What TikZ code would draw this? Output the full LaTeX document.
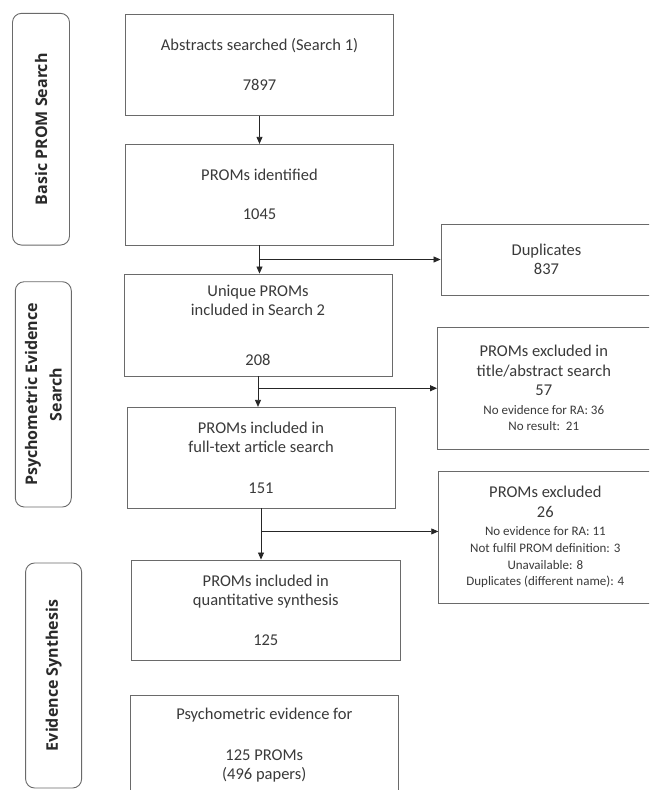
\documentclass[tikz,border=0pt]{standalone}
\usepackage{fontspec}
\setmainfont{Carlito}
\newfontfamily\sidefont{Open Sans}
\usetikzlibrary{arrows.meta}
\definecolor{boxline}{HTML}{6A6A6A}
\definecolor{txt}{HTML}{3A3A3A}
\definecolor{sidetxt}{HTML}{2A2A2A}
\newcommand{\smalltxt}{\fontsize{13}{16.7}\selectfont}
\begin{document}
\begin{tikzpicture}[x=1pt,y=-1pt,
  box/.style={draw=boxline, line width=0.9pt, align=center, text=txt, inner sep=0pt,
              font=\fontsize{16.5}{19.5}\selectfont},
  sidebox/.style={draw=boxline, line width=0.9pt, rounded corners=9pt, rotate=90,
              align=center, text=sidetxt, inner sep=0pt,
              font=\sidefont\bfseries\fontsize{16}{24.5}\selectfont},
  arr/.style={draw=black!85, line width=0.8pt, -{Triangle[length=7pt,width=6pt]}}]
\useasboundingbox (0,0) rectangle (649,790);
\fill[white] (0,0) rectangle (649,790);
\clip (0,0) rectangle (649,790);

% side labels
\node[sidebox, minimum width=231.7pt, minimum height=57pt] (s1) at (41,129.2) {Basic PROM Search};
\node[sidebox, minimum width=225.3pt, minimum height=56pt] (s2) at (43.3,394.35) {Psychometric Evidence\\Search};
\node[sidebox, minimum width=225pt, minimum height=56pt] (s3) at (53.6,675.5) {Evidence Synthesis};

% main column
\node[box, minimum width=268.2pt, minimum height=101.3pt] (A) at (259.5,64.65)
  {Abstracts searched (Search 1)\\[20.5pt]7897};
\node[box, minimum width=268.2pt, minimum height=100.7pt] (B) at (259.5,194.65)
  {PROMs identified\\[19.8pt]1045};
\node[box, minimum width=268pt, minimum height=102pt] (C) at (258,325)
  {Unique PROMs\\included in Search 2\\[30.2pt]208};
\node[box, minimum width=268pt, minimum height=100.7pt] (D) at (261,457.65)
  {PROMs included in\\full-text article search\\[21.5pt]151};
\node[box, minimum width=268.4pt, minimum height=100.7pt] (F) at (265.8,610.35)
  {PROMs included in\\quantitative synthesis\\[20.5pt]125};
\node[box, minimum width=268.6pt, minimum height=101pt] (G) at (264.3,745.5)
  {Psychometric evidence for\\[21pt]125 PROMs\\(496 papers)};

% right column
\node[box, minimum width=211pt, minimum height=71pt] (Dup) at (546.5,259.5)
  {Duplicates\\837};
\node[box, minimum width=212.5pt, minimum height=121.5pt] (X1) at (543.75,388.25)
  {PROMs excluded in\\title/abstract search\\57\\[-1.2pt]{\smalltxt No evidence for RA: 36}\\[-2.8pt]{\smalltxt No result:\ \ 21}};
\node[box, minimum width=213.3pt, minimum height=132.3pt] (E) at (545.35,537.15)
  {PROMs excluded\\26\\[-0.8pt]{\smalltxt No evidence for RA: 11}\\[-2.8pt]{\smalltxt Not fulfil PROM definition: 3}\\[-2.8pt]{\smalltxt Unavailable: 8}\\[-2.8pt]{\smalltxt Duplicates (different name): 4}};

% connectors
\draw[arr] (A.south) -- (B.north);
\draw[arr] (B.south) -- (B.south |- C.north);
\coordinate (j1) at (B.south |- Dup.west);
\draw[arr] (j1) -- (Dup.west);
\draw[arr] (C.south) -- (C.south |- D.north);
\coordinate (j2) at (C.south |- X1.west);
\draw[arr] (j2) -- (X1.west);
\draw[arr] (D.south) -- (D.south |- F.north);
\path (D.south) ++(0,23) coordinate (j3);
\draw[arr] (j3) -- (j3 -| E.west);
\end{tikzpicture}
\end{document}
